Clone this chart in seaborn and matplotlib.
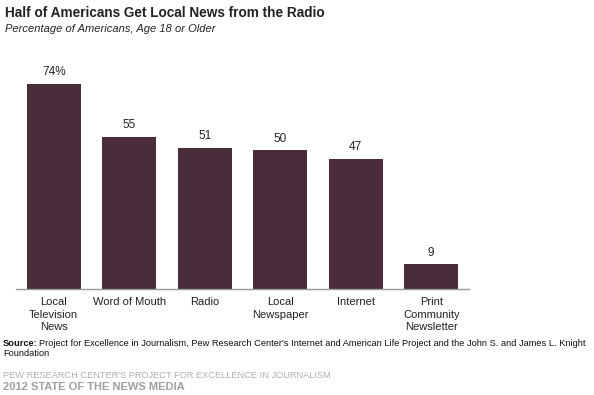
import matplotlib
matplotlib.use("Agg")
import matplotlib.pyplot as plt
import seaborn as sns
import pandas as pd

categories = ["Local\nTelevision\nNews", "Word of Mouth", "Radio", "Local\nNewspaper", "Internet", "Print\nCommunity\nNewsletter"]
values = [74, 55, 51, 50, 47, 9]
value_labels = ["74%", "55", "51", "50", "47", "9"]

sns.set_theme(style="white")
plt.rcParams['font.family'] = ['Liberation Sans', 'DejaVu Sans']

df = pd.DataFrame({"cat": categories, "val": values})

W, H = 594, 395
fig = plt.figure(figsize=(W/100, H/100), dpi=100)
ax = fig.add_axes([16/W, 1-289/H, (469-16)/W, (289-70)/H])
sns.barplot(data=df, x="cat", y="val", color="#4a2c3a", saturation=1, width=0.72, ax=ax)
for p in ax.patches:
    p.set_edgecolor("none")
ax.set_xlim(-0.5, 5.5)
ax.set_ylim(0, 79)
for i, (v, lab) in enumerate(zip(values, value_labels)):
    ax.text(i, v + 2.0, lab, ha="center", va="bottom", fontsize=8.5, color="#222222")
ax.set_xlabel("")
ax.set_ylabel("")
ax.set_yticks([])
ax.tick_params(axis="x", length=0, pad=6, labelsize=8, colors="#222222")
for t in ax.get_xticklabels():
    t.set_linespacing(1.3)
for s in ["top", "left", "right"]:
    ax.spines[s].set_visible(False)
ax.spines["bottom"].set_color("#999999")
ax.spines["bottom"].set_linewidth(1)

fig.text(5/W, 1-13/H, "Half of Americans Get Local News from the Radio", fontsize=9.8, fontweight="bold", color="#222222", va="center")
fig.text(5/W, 1-29/H, "Percentage of Americans, Age 18 or Older", fontsize=8, style="italic", color="#222222", va="center")

renderer = fig.canvas.get_renderer()
src_fs = 6.8
gap = 1.5
t1 = fig.text(3/W, 1-343/H, "Source:", fontsize=src_fs, fontweight="bold", color="#111111", va="center")
w1 = t1.get_window_extent(renderer).width
t2 = fig.text((3 + w1 + gap)/W, 1-343/H, "Project for Excellence in Journalism, Pew Research Center's Internet and American Life Project and the John S. and James L. Knight", fontsize=src_fs, color="#111111", va="center")
total = w1 + gap + t2.get_window_extent(renderer).width
src_fs2 = src_fs * 586 / total
t1.set_fontsize(src_fs2)
w1 = t1.get_window_extent(renderer).width
t2.set_fontsize(src_fs2)
t2.set_x((3 + w1 + gap)/W)
fig.text(3/W, 1-354/H, "Foundation", fontsize=src_fs2, color="#111111", va="center")

f1 = fig.text(3/W, 1-375/H, "PEW RESEARCH CENTER'S PROJECT FOR EXCELLENCE IN JOURNALISM", fontsize=7.5, color="#b0b0b0", va="center")
fw = f1.get_window_extent(renderer).width
f1.set_fontsize(7.5 * 330 / fw)
f2 = fig.text(3/W, 1-387/H, "2012 STATE OF THE NEWS MEDIA", fontsize=8, fontweight="bold", color="#a0a0a0", va="center")
fw2 = f2.get_window_extent(renderer).width
f2.set_fontsize(8 * 183 / fw2)

fig.savefig("out.png", dpi=100)
